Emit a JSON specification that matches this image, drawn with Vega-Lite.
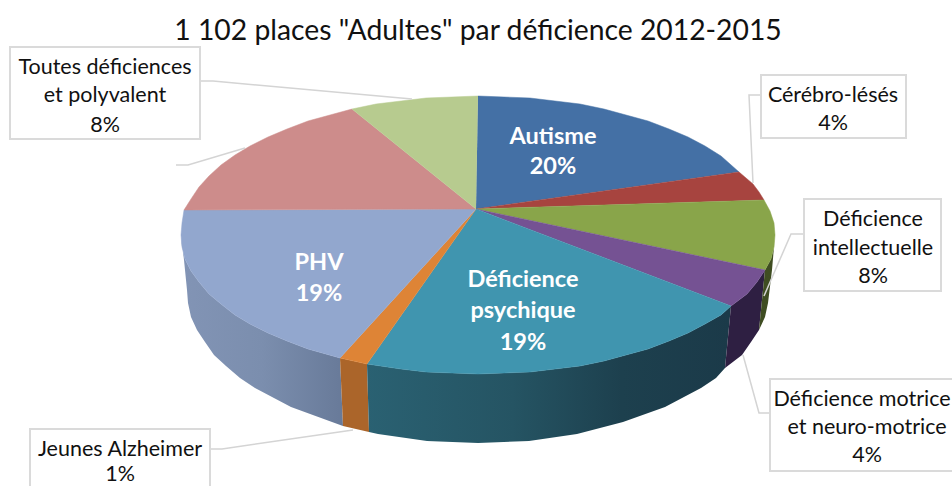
{"$schema":"https://vega.github.io/schema/vega-lite/v6.json","width":952,"height":486,"padding":0,"autosize":{"type":"fit","contains":"padding"},"background":"white","view":{"stroke":null},
"datasets":{
"top":[
{"s":"Autisme","i":0,"x":476,"y":209},{"s":"Autisme","i":1,"x":478,"y":96},{"s":"Autisme","i":1.5,"x":504,"y":97},{"s":"Autisme","i":2,"x":530,"y":98},{"s":"Autisme","i":2.5,"x":555,"y":101},{"s":"Autisme","i":3,"x":580,"y":104},{"s":"Autisme","i":3.5,"x":604,"y":109},{"s":"Autisme","i":4,"x":626,"y":115},{"s":"Autisme","i":4.5,"x":648,"y":121},{"s":"Autisme","i":5,"x":669,"y":129},{"s":"Autisme","i":5.5,"x":688,"y":137},{"s":"Autisme","i":6,"x":705,"y":146},{"s":"Autisme","i":6.5,"x":721,"y":156},{"s":"Autisme","i":7,"x":739,"y":172},
{"s":"Cérébro","i":0,"x":476,"y":209},{"s":"Cérébro","i":1,"x":739,"y":172},{"s":"Cérébro","i":2,"x":753,"y":184},{"s":"Cérébro","i":2.5,"x":759,"y":192},{"s":"Cérébro","i":3,"x":764,"y":200},
{"s":"Intellectuelle","i":0,"x":476,"y":209},{"s":"Intellectuelle","i":1,"x":764,"y":200},{"s":"Intellectuelle","i":2,"x":770,"y":211},{"s":"Intellectuelle","i":2.5,"x":774,"y":223},{"s":"Intellectuelle","i":3,"x":775,"y":235},{"s":"Intellectuelle","i":3.5,"x":774,"y":247},{"s":"Intellectuelle","i":4,"x":771,"y":259},{"s":"Intellectuelle","i":5,"x":765,"y":270},
{"s":"Motrice","i":0,"x":476,"y":209},{"s":"Motrice","i":1,"x":765,"y":270},{"s":"Motrice","i":2,"x":757,"y":282},{"s":"Motrice","i":2.5,"x":747,"y":294},{"s":"Motrice","i":3,"x":731,"y":306},
{"s":"Psychique","i":0,"x":476,"y":209},{"s":"Psychique","i":1,"x":731,"y":306},{"s":"Psychique","i":1.5,"x":721,"y":315},{"s":"Psychique","i":2,"x":705,"y":324},{"s":"Psychique","i":2.5,"x":688,"y":333},{"s":"Psychique","i":3,"x":669,"y":341},{"s":"Psychique","i":3.5,"x":648,"y":349},{"s":"Psychique","i":4,"x":626,"y":355},{"s":"Psychique","i":4.5,"x":604,"y":361},{"s":"Psychique","i":5,"x":580,"y":366},{"s":"Psychique","i":5.5,"x":555,"y":369},{"s":"Psychique","i":6,"x":530,"y":372},{"s":"Psychique","i":6.5,"x":504,"y":373},{"s":"Psychique","i":7,"x":478,"y":374},{"s":"Psychique","i":7.5,"x":452,"y":373},{"s":"Psychique","i":8,"x":426,"y":372},{"s":"Psychique","i":8.5,"x":401,"y":369},{"s":"Psychique","i":9,"x":367,"y":364},
{"s":"Alzheimer","i":0,"x":476,"y":209},{"s":"Alzheimer","i":1,"x":367,"y":364},{"s":"Alzheimer","i":2,"x":340,"y":358},
{"s":"PHV","i":0,"x":476,"y":209},{"s":"PHV","i":1,"x":340,"y":358},{"s":"PHV","i":1.5,"x":308,"y":349},{"s":"PHV","i":2,"x":287,"y":341},{"s":"PHV","i":2.5,"x":268,"y":333},{"s":"PHV","i":3,"x":250,"y":324},{"s":"PHV","i":3.5,"x":235,"y":315},{"s":"PHV","i":4,"x":221,"y":304},{"s":"PHV","i":4.5,"x":209,"y":294},{"s":"PHV","i":5,"x":199,"y":282},{"s":"PHV","i":5.5,"x":191,"y":271},{"s":"PHV","i":6,"x":185,"y":259},{"s":"PHV","i":6.5,"x":182,"y":247},{"s":"PHV","i":7,"x":181,"y":235},{"s":"PHV","i":7.5,"x":182,"y":223},{"s":"PHV","i":8,"x":184,"y":210},
{"s":"Rose","i":0,"x":476,"y":209},{"s":"Rose","i":1,"x":184,"y":210},{"s":"Rose","i":1.5,"x":191,"y":199},{"s":"Rose","i":2,"x":199,"y":187},{"s":"Rose","i":2.5,"x":209,"y":176},{"s":"Rose","i":3,"x":221,"y":165},{"s":"Rose","i":3.5,"x":235,"y":155},{"s":"Rose","i":4,"x":250,"y":146},{"s":"Rose","i":4.5,"x":268,"y":137},{"s":"Rose","i":5,"x":287,"y":129},{"s":"Rose","i":5.5,"x":308,"y":121},{"s":"Rose","i":6,"x":330,"y":115},{"s":"Rose","i":7,"x":352,"y":109},
{"s":"Toutes","i":0,"x":476,"y":209},{"s":"Toutes","i":1,"x":352,"y":109},{"s":"Toutes","i":2,"x":376,"y":104},{"s":"Toutes","i":2.5,"x":401,"y":101},{"s":"Toutes","i":3,"x":426,"y":98},{"s":"Toutes","i":3.5,"x":452,"y":97},{"s":"Toutes","i":4,"x":478,"y":96}
],
"sidePHV":[{"i":0,"x":181,"y":235},{"i":1,"x":182,"y":247},{"i":2,"x":185,"y":259},{"i":3,"x":191,"y":271},{"i":4,"x":199,"y":282},{"i":5,"x":209,"y":294},{"i":6,"x":221,"y":304},{"i":7,"x":235,"y":315},{"i":8,"x":250,"y":324},{"i":9,"x":268,"y":333},{"i":10,"x":287,"y":341},{"i":11,"x":308,"y":349},{"i":12,"x":340,"y":358},{"i":13,"x":343,"y":426},{"i":14,"x":332,"y":422},{"i":15,"x":291,"y":407},{"i":16,"x":255,"y":388},{"i":17,"x":240,"y":378},{"i":18,"x":226,"y":366},{"i":19,"x":214,"y":355},{"i":20,"x":205,"y":342},{"i":21,"x":197,"y":330},{"i":22,"x":191,"y":317},{"i":23,"x":188,"y":303},{"i":24,"x":187,"y":290},{"i":25,"x":184,"y":260}],
"sideAlz":[{"i":0,"x":340,"y":358},{"i":1,"x":367,"y":364},{"i":2,"x":369,"y":432},{"i":3,"x":343,"y":426}],
"sidePsy":[{"i":0,"x":367,"y":364},{"i":1,"x":401,"y":369},{"i":2,"x":426,"y":372},{"i":3,"x":452,"y":373},{"i":4,"x":478,"y":374},{"i":5,"x":504,"y":373},{"i":6,"x":530,"y":372},{"i":7,"x":555,"y":369},{"i":8,"x":580,"y":366},{"i":9,"x":604,"y":361},{"i":10,"x":626,"y":355},{"i":11,"x":648,"y":349},{"i":12,"x":669,"y":341},{"i":13,"x":688,"y":333},{"i":14,"x":705,"y":324},{"i":15,"x":721,"y":315},{"i":16,"x":731,"y":306},{"i":17,"x":725,"y":368},{"i":18,"x":716,"y":378},{"i":19,"x":701,"y":388},{"i":20,"x":665,"y":407},{"i":21,"x":623,"y":422},{"i":22,"x":577,"y":434},{"i":23,"x":529,"y":441},{"i":24,"x":478,"y":443},{"i":25,"x":427,"y":441},{"i":26,"x":378,"y":434},{"i":27,"x":369,"y":432}],
"sideMot":[{"i":0,"x":731,"y":306},{"i":1,"x":747,"y":294},{"i":2,"x":757,"y":282},{"i":3,"x":765,"y":270},{"i":4,"x":759,"y":330},{"i":5,"x":751,"y":342},{"i":6,"x":742,"y":355},{"i":7,"x":725,"y":368}],
"sideInt":[{"i":0,"x":765,"y":270},{"i":1,"x":771,"y":259},{"i":2,"x":774,"y":247},{"i":3,"x":775,"y":235},{"i":4,"x":772,"y":270},{"i":5,"x":768,"y":303},{"i":6,"x":765,"y":317},{"i":7,"x":759,"y":330}],
"boxes":[{"x":10,"x2":200,"y":47,"y2":139},{"x":761,"x2":906,"y":75,"y2":138},{"x":804,"x2":941,"y":199,"y2":291},{"x":770,"x2":964,"y":379,"y2":471},{"x":30,"x2":210,"y":429,"y2":495}],
"leaders":[
{"l":"a","i":0,"x":200,"y":81},{"l":"a","i":1,"x":213,"y":81},{"l":"a","i":2,"x":412,"y":99},
{"l":"b","i":0,"x":176,"y":165},{"l":"b","i":1,"x":188,"y":165},{"l":"b","i":2,"x":245,"y":148},
{"l":"c","i":0,"x":761,"y":95},{"l":"c","i":1,"x":749,"y":95},{"l":"c","i":2,"x":753,"y":183},
{"l":"d","i":0,"x":804,"y":234},{"l":"d","i":1,"x":791,"y":234},{"l":"d","i":2,"x":764,"y":296},
{"l":"e","i":0,"x":770,"y":413},{"l":"e","i":1,"x":759,"y":413},{"l":"e","i":2,"x":743,"y":355},
{"l":"f","i":0,"x":211,"y":449},{"l":"f","i":1,"x":222,"y":449},{"l":"f","i":2,"x":353,"y":430}],
"dark":[{"t":"Toutes déficiences","x":105,"y":66},{"t":"et polyvalent","x":105,"y":94},{"t":"8%","x":105,"y":124},{"t":"Cérébro-lésés","x":833,"y":94},{"t":"4%","x":833,"y":122},{"t":"Déficience","x":873,"y":218},{"t":"intellectuelle","x":873,"y":247},{"t":"8%","x":873,"y":275},{"t":"Déficience motrice","x":862,"y":398},{"t":"et neuro-motrice","x":867,"y":426},{"t":"4%","x":867,"y":454},{"t":"Jeunes Alzheimer","x":120,"y":448},{"t":"1%","x":120,"y":473}],
"white":[{"t":"Autisme","x":553,"y":135},{"t":"20%","x":553,"y":165},{"t":"PHV","x":319,"y":261},{"t":"19%","x":319,"y":292},{"t":"Déficience","x":523,"y":278},{"t":"psychique","x":523,"y":309},{"t":"19%","x":523,"y":341}],
"heading":[{"t":"1 102 places \"Adultes\" par déficience 2012-2015","x":478,"y":30}]
},
"encoding":{"x":{"field":"x","type":"quantitative","scale":{"domain":[0,952],"nice":false,"zero":false},"axis":null},"y":{"field":"y","type":"quantitative","scale":{"domain":[486,0],"nice":false,"zero":false},"axis":null}},
"layer":[
{"data":{"name":"sidePHV"},"mark":{"type":"line","strokeWidth":0,"fill":{"gradient":"linear","x1":0,"y1":0,"x2":1,"y2":0,"stops":[{"offset":0,"color":"#8294B5"},{"offset":0.5,"color":"#7B8EAE"},{"offset":1,"color":"#687A99"}]}},"encoding":{"order":{"field":"i","type":"quantitative"}}},
{"data":{"name":"sideAlz"},"mark":{"type":"line","strokeWidth":0,"fill":"#AB652A"},"encoding":{"order":{"field":"i","type":"quantitative"}}},
{"data":{"name":"sidePsy"},"mark":{"type":"line","strokeWidth":0,"fill":{"gradient":"linear","x1":0,"y1":0,"x2":1,"y2":0,"stops":[{"offset":0,"color":"#2A6172"},{"offset":0.4,"color":"#255463"},{"offset":0.7,"color":"#1D404E"},{"offset":1,"color":"#1B3A49"}]}},"encoding":{"order":{"field":"i","type":"quantitative"}}},
{"data":{"name":"sideMot"},"mark":{"type":"line","strokeWidth":0,"fill":"#2E1F42"},"encoding":{"order":{"field":"i","type":"quantitative"}}},
{"data":{"name":"sideInt"},"mark":{"type":"line","strokeWidth":0,"fill":"#3F4D22"},"encoding":{"order":{"field":"i","type":"quantitative"}}},
{"data":{"name":"top"},"mark":{"type":"line","strokeWidth":0.5,"interpolate":"linear"},"encoding":{"order":{"field":"i","type":"quantitative"},"detail":{"field":"s"},
"fill":{"field":"s","type":"nominal","legend":null,"scale":{"domain":["Autisme","Cérébro","Intellectuelle","Motrice","Psychique","Alzheimer","PHV","Rose","Toutes"],"range":["#4470A5","#A7443F","#89A54A","#755293","#4095AF","#DE8436","#92A7CE","#CD8C8B","#B7CB8F"]}},
"stroke":{"field":"s","type":"nominal","legend":null,"scale":{"domain":["Autisme","Cérébro","Intellectuelle","Motrice","Psychique","Alzheimer","PHV","Rose","Toutes"],"range":["#4470A5","#A7443F","#89A54A","#755293","#4095AF","#DE8436","#92A7CE","#CD8C8B","#B7CB8F"]}}}},
{"data":{"name":"leaders"},"mark":{"type":"line","stroke":"#D4D4D4","strokeWidth":1.5},"encoding":{"detail":{"field":"l"},"order":{"field":"i","type":"quantitative"}}},
{"data":{"name":"boxes"},"mark":{"type":"rect","fill":"white","stroke":"#DADADA","strokeWidth":2,"clip":true},"encoding":{"x2":{"field":"x2"},"y2":{"field":"y2"}}},
{"data":{"name":"dark"},"mark":{"type":"text","font":"Lato","fontSize":21.5,"color":"#111111","align":"center","baseline":"middle","dy":2,"clip":true},"encoding":{"text":{"field":"t"}}},
{"data":{"name":"white"},"mark":{"type":"text","font":"Lato","fontSize":23.5,"fontWeight":"bold","color":"white","align":"center","baseline":"middle","dy":2},"encoding":{"text":{"field":"t"}}},
{"data":{"name":"heading"},"mark":{"type":"text","font":"Lato","fontSize":28.3,"color":"#111111","align":"center","baseline":"middle","dy":2},"encoding":{"text":{"field":"t"}}}
]}
